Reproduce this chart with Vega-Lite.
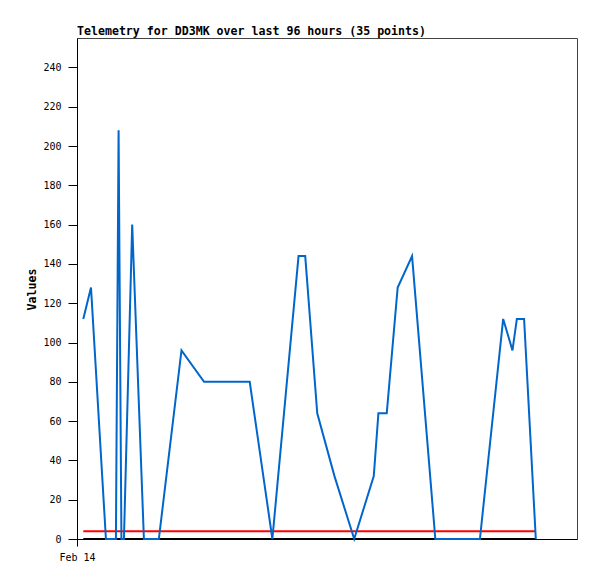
{
  "$schema": "https://vega.github.io/schema/vega-lite/v6.json",
  "width": 500,
  "height": 501,
  "autosize": "none",
  "padding": {"left": 77, "top": 38, "right": 20, "bottom": 40},
  "background": "white",
  "config": {
    "view": {"stroke": "#444444", "strokeWidth": 1},
    "axis": {"grid": false, "domainColor": "#000000", "tickColor": "#000000", "labelColor": "#000000", "titleColor": "#000000", "labelFont": "DejaVu Sans Mono", "labelFontSize": 10, "domainWidth": 1, "tickWidth": 1}
  },
  "title": {
    "text": "Telemetry for DD3MK over last 96 hours (35 points)",
    "anchor": "start",
    "frame": "group",
    "baseline": "alphabetic",
    "offset": 4,
    "dy": 13,
    "font": "DejaVu Sans Mono",
    "fontWeight": "bold",
    "fontSize": 11.6,
    "color": "#000000"
  },
  "datasets": {
    "telemetry": [
      {"t": "2024-02-14T01:20:00Z", "v": 112},
      {"t": "2024-02-14T02:58:00Z", "v": 128},
      {"t": "2024-02-14T06:08:00Z", "v": 0},
      {"t": "2024-02-14T08:15:00Z", "v": 0},
      {"t": "2024-02-14T08:49:00Z", "v": 208},
      {"t": "2024-02-14T09:25:00Z", "v": 0},
      {"t": "2024-02-14T09:57:00Z", "v": 0},
      {"t": "2024-02-14T11:42:00Z", "v": 160},
      {"t": "2024-02-14T14:11:00Z", "v": 0},
      {"t": "2024-02-14T17:21:00Z", "v": 0},
      {"t": "2024-02-14T22:09:00Z", "v": 96},
      {"t": "2024-02-15T02:56:00Z", "v": 80},
      {"t": "2024-02-15T12:37:00Z", "v": 80},
      {"t": "2024-02-15T17:25:00Z", "v": 0},
      {"t": "2024-02-15T22:58:00Z", "v": 144},
      {"t": "2024-02-16T00:23:00Z", "v": 144},
      {"t": "2024-02-16T02:56:00Z", "v": 64},
      {"t": "2024-02-16T06:35:00Z", "v": 32},
      {"t": "2024-02-16T10:46:00Z", "v": 0},
      {"t": "2024-02-16T14:55:00Z", "v": 32},
      {"t": "2024-02-16T15:54:00Z", "v": 64},
      {"t": "2024-02-16T17:40:00Z", "v": 64},
      {"t": "2024-02-16T19:59:00Z", "v": 128},
      {"t": "2024-02-16T23:02:00Z", "v": 144},
      {"t": "2024-02-17T03:58:00Z", "v": 0},
      {"t": "2024-02-17T13:25:00Z", "v": 0},
      {"t": "2024-02-17T18:21:00Z", "v": 112},
      {"t": "2024-02-17T20:19:00Z", "v": 96},
      {"t": "2024-02-17T21:15:00Z", "v": 112},
      {"t": "2024-02-17T22:47:00Z", "v": 112},
      {"t": "2024-02-18T01:16:00Z", "v": 0}
    ],
    "limit": [
      {"t": "2024-02-14T01:20:00Z", "v": 4},
      {"t": "2024-02-18T01:16:00Z", "v": 4}
    ],
    "base": [
      {"t": "2024-02-14T01:20:00Z", "v": 0},
      {"t": "2024-02-18T01:16:00Z", "v": 0}
    ]
  },
  "encoding": {
    "x": {
      "field": "t",
      "type": "temporal",
      "scale": {"type": "utc", "domain": [{"year": 2024, "month": 2, "date": 14, "utc": true}, {"year": 2024, "month": 2, "date": 18, "hours": 10, "utc": true}]},
      "axis": {
        "title": null,
        "values": [{"year": 2024, "month": 2, "date": 14, "utc": true}],
        "labelExpr": "utcFormat(datum.value, '%b %d')",
        "tickSize": 7,
        "labelPadding": 6,
        "labelAlign": "center",
        "labelFlush": false
      }
    },
    "y": {
      "field": "v",
      "type": "quantitative",
      "scale": {"domain": [0, 255], "nice": false, "zero": true},
      "axis": {
        "title": "Values",
        "values": [0, 20, 40, 60, 80, 100, 120, 140, 160, 180, 200, 220, 240],
        "tickSize": 9,
        "labelPadding": 7,
        "labelFlush": false,
        "titleFont": "DejaVu Sans Mono",
        "titleFontWeight": "bold",
        "titleFontSize": 11.6,
        "titleAngle": -90,
        "titleAlign": "center",
        "titleBaseline": "middle",
        "titleX": -45,
        "titleY": 251
      }
    }
  },
  "layer": [
    {
      "data": {"name": "base"},
      "mark": {"type": "line", "color": "#000000", "strokeWidth": 2}
    },
    {
      "data": {"name": "limit"},
      "mark": {"type": "line", "color": "#ff0000", "strokeWidth": 2}
    },
    {
      "data": {"name": "telemetry"},
      "mark": {"type": "line", "color": "#0066cc", "strokeWidth": 2, "strokeJoin": "miter"}
    }
  ]
}
